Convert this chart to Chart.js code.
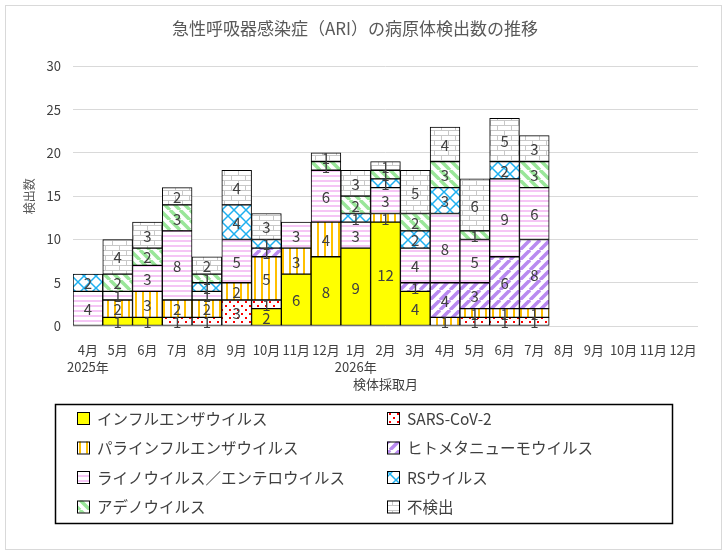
<!DOCTYPE html>
<html lang="ja">
<head>
<meta charset="utf-8">
<title>急性呼吸器感染症（ARI）の病原体検出数の推移</title>
<script src="https://cdn.jsdelivr.net/npm/chart.js@4"></script>
<style>
  html, body { margin: 0; padding: 0; background: #fff; }
  #wrap { width: 724px; height: 553px; position: relative; }
</style>
</head>
<body>
<div id="wrap"><canvas id="ari-chart" width="724" height="553"></canvas></div>
<script>
// ─── DATA ─────────────────────────────────────────────────
const months = ['4月', '5月', '6月', '7月', '8月', '9月', '10月', '11月', '12月', '1月', '2月', '3月',
                '4月', '5月', '6月', '7月', '8月', '9月', '10月', '11月', '12月'];
const yearMarks = { 0: '2025年', 9: '2026年' };

const influenza    = [0, 1, 1, 0, 0, 0, 2, 6, 8, 9, 12, 4, 0, 0, 0, 0];
const sarsCov2     = [0, 0, 0, 1, 1, 3, 1, 0, 0, 0, 0, 0, 0, 1, 1, 1];
const parainfluenza = [0, 2, 3, 2, 2, 2, 5, 3, 4, 0, 1, 0, 1, 1, 1, 1];
const hmpv         = [0, 0, 0, 0, 0, 0, 1, 0, 0, 0, 0, 1, 4, 3, 6, 8];
const rhinoEntero  = [4, 1, 3, 8, 1, 5, 0, 3, 6, 3, 3, 4, 8, 5, 9, 6];
const rsVirus      = [2, 0, 0, 0, 1, 4, 1, 0, 0, 1, 1, 2, 3, 0, 2, 0];
const adenovirus   = [0, 2, 2, 3, 1, 0, 0, 0, 1, 2, 1, 2, 3, 1, 0, 3];
const notDetected  = [0, 4, 3, 2, 2, 4, 3, 0, 1, 3, 1, 5, 4, 6, 5, 3];

const yTicks = [0, 5, 10, 15, 20, 25, 30];

// ─── PATTERNS ─────────────────────────────────────────────
function makePattern(w, h, draw) {
    const c = document.createElement('canvas');
    c.width = w; c.height = h;
    const g = c.getContext('2d');
    g.fillStyle = '#fff';
    g.fillRect(0, 0, w, h);
    draw(g, w, h);
    return g.createPattern(c, 'repeat');
}

function diagonal(g, w, h, color, width, up) {
    g.strokeStyle = color;
    g.lineWidth = width;
    for (let k = -1; k <= 1; k++) {
        g.beginPath();
        if (up) { g.moveTo(k * w, h); g.lineTo(k * w + w, 0); }
        else    { g.moveTo(k * w, 0); g.lineTo(k * w + w, h); }
        g.stroke();
    }
}

const fills = {
    flu: '#FFFF00',
    sars: makePattern(8, 8, g => {
        g.fillStyle = '#FF0000';
        g.fillRect(1, 1, 2, 2);
        g.fillRect(5, 5, 2, 2);
    }),
    para: makePattern(7, 7, g => {
        g.fillStyle = '#FFC000';
        g.fillRect(2, 0, 2, 7);
    }),
    hmpv: makePattern(10, 10, (g, w, h) => diagonal(g, w, h, '#B98AF0', 3.5, true)),
    rhino: makePattern(5, 5, g => {
        g.fillStyle = '#F5C6F5';
        g.fillRect(0, 0, 5, 2);
    }),
    rs: makePattern(12, 12, (g, w, h) => {
        diagonal(g, w, h, '#1EB0F0', 1.5, true);
        diagonal(g, w, h, '#1EB0F0', 1.5, false);
    }),
    adeno: makePattern(10, 10, (g, w, h) => diagonal(g, w, h, '#99E699', 3.5, false)),
    none: makePattern(14, 10, g => {
        g.fillStyle = '#C8C8C8';
        g.fillRect(0, 0, 14, 1);
        g.fillRect(0, 5, 14, 1);
        g.fillRect(0, 0, 1, 5);
        g.fillRect(7, 5, 1, 5);
    })
};

const series = [
    { label: 'インフルエンザウイルス', data: influenza, fill: fills.flu },
    { label: 'SARS-CoV-2', data: sarsCov2, fill: fills.sars },
    { label: 'パラインフルエンザウイルス', data: parainfluenza, fill: fills.para },
    { label: 'ヒトメタニューモウイルス', data: hmpv, fill: fills.hmpv },
    { label: 'ライノウイルス／エンテロウイルス', data: rhinoEntero, fill: fills.rhino },
    { label: 'RSウイルス', data: rsVirus, fill: fills.rs },
    { label: 'アデノウイルス', data: adenovirus, fill: fills.adeno },
    { label: '不検出', data: notDetected, fill: fills.none }
];

const FONT = '"Noto Sans CJK JP", "Noto Sans", sans-serif';

// ─── PLUGINS ──────────────────────────────────────────────
const frame = {
    id: 'frame',
    beforeDraw(chart) {
        const c = chart.ctx;
        c.save();
        c.fillStyle = '#fff';
        c.fillRect(0, 0, chart.width, chart.height);
        c.strokeStyle = '#D9D9D9';
        c.lineWidth = 1;
        c.strokeRect(5.5, 5.5, 716, 544);
        c.restore();
    }
};

const segmentLabels = {
    id: 'segmentLabels',
    afterDatasetsDraw(chart) {
        const c = chart.ctx;
        c.save();
        c.font = '15px ' + FONT;
        c.fillStyle = '#404040';
        c.textAlign = 'center';
        c.textBaseline = 'middle';
        chart.data.datasets.forEach((ds, i) => {
            chart.getDatasetMeta(i).data.forEach((bar, j) => {
                const v = ds.data[j];
                if (!v) return;
                c.fillText(String(v), bar.x, (bar.y + bar.base) / 2 + 1);
            });
        });
        c.restore();
    }
};

const boxLegend = {
    id: 'boxLegend',
    afterDraw(chart) {
        const c = chart.ctx;
        c.save();
        c.strokeStyle = '#000';
        c.lineWidth = 1.5;
        c.strokeRect(55.5, 404.5, 617, 119);
        c.font = '15.5px ' + FONT;
        c.textBaseline = 'middle';
        chart.data.datasets.forEach((ds, i) => {
            const x = i % 2 ? 387 : 77;
            const y = 418 + Math.floor(i / 2) * 29.5;
            c.fillStyle = ds.backgroundColor;
            c.fillRect(x, y - 6, 12, 12);
            c.lineWidth = 1;
            c.strokeStyle = '#000';
            c.strokeRect(x + 0.5, y - 5.5, 12, 12);
            c.fillStyle = '#404040';
            c.fillText(ds.label, x + 20, y + 1);
        });
        c.restore();
    }
};

// ─── CHART ────────────────────────────────────────────────
const tickLabels = months.map((m, i) => yearMarks[i] ? [m, yearMarks[i]] : m);

new Chart(document.getElementById('ari-chart'), {
    type: 'bar',
    data: {
        labels: tickLabels,
        datasets: series.map(s => ({
            label: s.label,
            data: s.data.map(v => v || null),
            backgroundColor: s.fill,
            borderColor: '#000',
            borderWidth: 1,
            borderSkipped: false,
            barPercentage: 1,
            categoryPercentage: 1
        }))
    },
    options: {
        responsive: false,
        animation: false,
        devicePixelRatio: 1,
        layout: { padding: { top: 0, left: 12, right: 26, bottom: 157 } },
        plugins: {
            legend: { display: false },
            tooltip: { enabled: false },
            title: {
                display: true,
                text: '急性呼吸器感染症（ARI）の病原体検出数の推移',
                color: '#595959',
                font: { family: FONT, size: 17, weight: 'normal' },
                padding: { top: 18, bottom: 28 }
            }
        },
        scales: {
            x: {
                stacked: true,
                afterFit: s => { s.height = 70; },
                grid: { display: false },
                border: { display: false },
                ticks: {
                    color: '#404040',
                    font: { family: FONT, size: 13, lineHeight: 1.35 },
                    maxRotation: 0,
                    autoSkip: false,
                    padding: 7
                },
                title: {
                    display: true,
                    text: '検体採取月',
                    color: '#404040',
                    font: { family: FONT, size: 13 },
                    padding: { top: 0, bottom: 4 }
                }
            },
            y: {
                stacked: true,
                min: 0, max: 30,
                afterBuildTicks: s => { s.ticks = yTicks.map(v => ({ value: v })); },
                afterFit: s => { s.width = 61; },
                grid: { color: '#D9D9D9', drawTicks: false },
                border: { display: false },
                ticks: {
                    color: '#404040',
                    font: { family: FONT, size: 13 },
                    padding: 12
                },
                title: {
                    display: true,
                    text: '検出数',
                    color: '#595959',
                    font: { family: FONT, size: 12 },
                    padding: { top: 10, bottom: 0 }
                }
            }
        }
    },
    plugins: [frame, segmentLabels, boxLegend]
});
</script>
</body>
</html>
